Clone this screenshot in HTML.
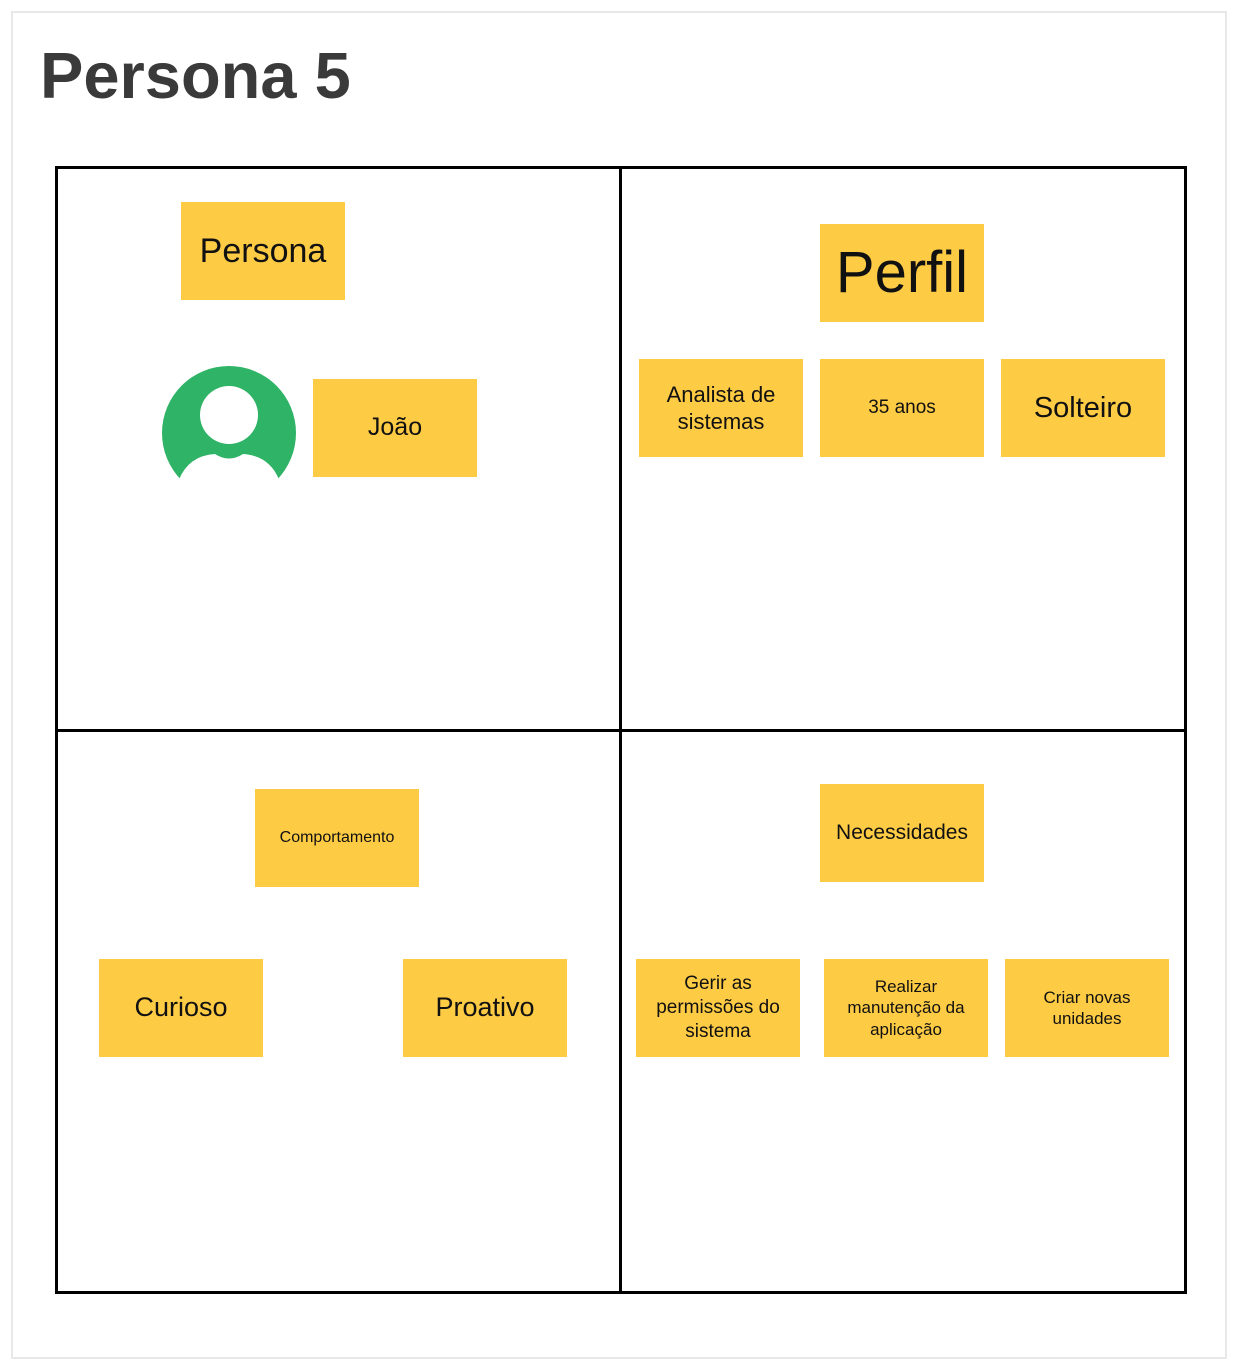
<!DOCTYPE html>
<html><head><meta charset="utf-8"><style>
body{margin:0;width:1237px;height:1369px;background:#fff;position:relative;overflow:hidden;font-family:"Liberation Sans",sans-serif}
.frame{position:absolute;left:11px;top:11px;width:1212px;height:1344px;border:2px solid #e8e8e8}
h1{position:absolute;left:40px;top:38px;margin:0;font-size:65px;font-weight:bold;color:#3a3a3a;letter-spacing:0}
.grid{position:absolute;left:55px;top:166px;width:1126px;height:1122px;border:3px solid #000}
.v{position:absolute;left:619px;top:166px;width:3px;height:1126px;background:#000}
.h{position:absolute;left:55px;top:729px;width:1130px;height:3px;background:#000}
.s{position:absolute;background:#fecb45;display:flex;align-items:center;justify-content:center;text-align:center;color:#111;line-height:1.25;width:164px;height:98px}
</style></head><body>
<div class="frame"></div>
<h1>Persona 5</h1>
<div class="grid"></div><div class="v"></div><div class="h"></div>
<div class="s" style="left:181px;top:202px;font-size:34px">Persona</div>
<svg style="position:absolute;left:160px;top:364px" width="140" height="120">
<defs><clipPath id="c"><rect x="0" y="0" width="140" height="116"/></clipPath></defs>
<g clip-path="url(#c)">
<circle cx="69" cy="69" r="67" fill="#2fb366"/>
<circle cx="69" cy="51" r="29" fill="#fff"/>
<path d="M16 125 Q24 92 55 90 Q69 99 83 90 Q114 92 122 125 Z" fill="#fff"/>
</g></svg>
<div class="s" style="left:313px;top:379px;font-size:25px">João</div>
<div class="s" style="left:820px;top:224px;font-size:58px">Perfil</div>
<div class="s" style="left:639px;top:359px;font-size:22px">Analista de<br>sistemas</div>
<div class="s" style="left:820px;top:359px;font-size:19px">35 anos</div>
<div class="s" style="left:1001px;top:359px;font-size:29px">Solteiro</div>
<div class="s" style="left:255px;top:789px;font-size:16px">Comportamento</div>
<div class="s" style="left:99px;top:959px;font-size:27px">Curioso</div>
<div class="s" style="left:403px;top:959px;font-size:27px">Proativo</div>
<div class="s" style="left:820px;top:784px;font-size:21px">Necessidades</div>
<div class="s" style="left:636px;top:959px;font-size:19px">Gerir as<br>permissões do<br>sistema</div>
<div class="s" style="left:824px;top:959px;font-size:17px">Realizar<br>manutenção da<br>aplicação</div>
<div class="s" style="left:1005px;top:959px;font-size:17px">Criar novas<br>unidades</div>
</body></html>
